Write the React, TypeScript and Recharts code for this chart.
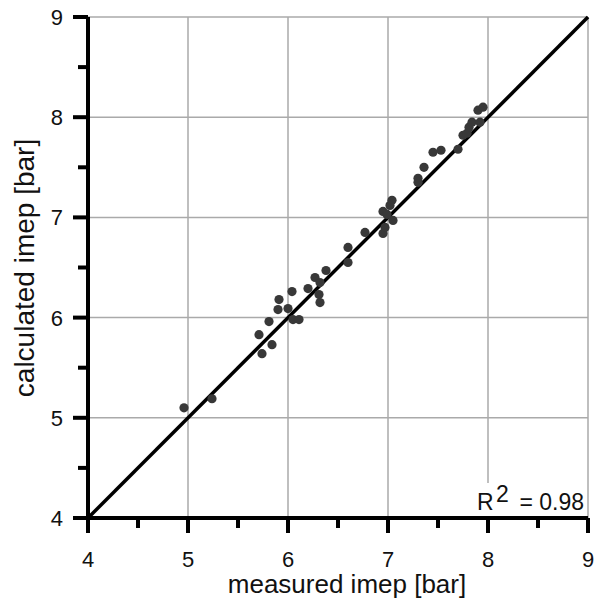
import { ScatterChart, Scatter, XAxis, YAxis, ReferenceLine, Label } from 'recharts';

// measured vs calculated imep [bar]
const measured = [
  4.96, 5.24, 5.71, 5.74, 5.84, 5.81, 5.9, 5.91, 6.0, 6.04, 6.05, 6.11, 6.2, 6.27,
  6.32, 6.31, 6.32, 6.38, 6.6, 6.6, 6.77, 6.95, 6.97, 6.95, 7.04, 7.02, 7.05, 6.99,
  7.3, 7.3, 7.36, 7.45, 7.53, 7.7, 7.75, 7.79, 7.81, 7.84, 7.9, 7.95, 7.92,
];
const calculated = [
  5.1, 5.19, 5.83, 5.64, 5.73, 5.96, 6.08, 6.18, 6.09, 6.26, 5.98, 5.98, 6.29, 6.4,
  6.35, 6.23, 6.15, 6.47, 6.55, 6.7, 6.85, 6.84, 6.9, 7.06, 7.17, 7.12, 6.97, 7.03,
  7.39, 7.35, 7.5, 7.65, 7.67, 7.68, 7.82, 7.84, 7.9, 7.95, 8.07, 8.1, 7.95,
];
const axisTicks = [4, 4.5, 5, 5.5, 6, 6.5, 7, 7.5, 8, 8.5, 9];
const gridValues = [5, 6, 7, 8, 9];

const points = measured.map((m, i) => ({ measured: m, calculated: calculated[i] }));

const FONT = '"Liberation Sans", Arial, sans-serif';

function XTick({ x, y, payload }: any) {
  const major = Number.isInteger(payload.value);
  return (
    <g>
      <line x1={x} x2={x} y1={y} y2={y + (major ? 15 : 10)} stroke="#000" strokeWidth={4} />
      {major && (
        <text x={x} y={y + 49} textAnchor="middle" fontSize={22} fontFamily={FONT} fill="#111">
          {payload.value}
        </text>
      )}
    </g>
  );
}

function YTick({ x, y, payload }: any) {
  const major = Number.isInteger(payload.value);
  return (
    <g>
      <line x1={x - (major ? 15 : 10)} x2={x} y1={y} y2={y} stroke="#000" strokeWidth={4} />
      {major && (
        <text x={x - 25} y={y + 8} textAnchor="end" fontSize={22} fontFamily={FONT} fill="#111">
          {payload.value}
        </text>
      )}
    </g>
  );
}

export default function App() {
  return (
    <div style={{ position: 'absolute', left: 0, top: 0, width: 598, height: 606, background: '#fff' }}>
      <ScatterChart width={598} height={606} margin={{ top: 17, right: 10, bottom: 0, left: 0 }}>
        {gridValues.map((v) => (
          <ReferenceLine key={'x' + v} x={v} stroke="#aaa" strokeWidth={1.5} />
        ))}
        {gridValues.map((v) => (
          <ReferenceLine key={'y' + v} y={v} stroke="#aaa" strokeWidth={1.5} />
        ))}
        <ReferenceLine
          segment={[{ x: 4, y: 4 }, { x: 9, y: 9 }]}
          stroke="#000"
          strokeWidth={3.5}
        />
        <XAxis
          type="number"
          dataKey="measured"
          domain={[4, 9]}
          ticks={axisTicks}
          interval={0}
          height={88}
          tickSize={0}
          tickMargin={0}
          tickLine={false}
          tick={<XTick />}
          axisLine={{ stroke: '#000', strokeWidth: 4 }}
        >
          <Label
            content={({ viewBox }: any) => (
              <text
                x={viewBox.x + viewBox.width / 2 + 9}
                y={viewBox.y + 75}
                textAnchor="middle"
                fontSize={26}
                fontFamily={FONT}
                fill="#111"
              >
                measured imep [bar]
              </text>
            )}
          />
        </XAxis>
        <YAxis
          type="number"
          dataKey="calculated"
          domain={[4, 9]}
          ticks={axisTicks}
          interval={0}
          width={88}
          tickSize={0}
          tickMargin={0}
          tickLine={false}
          tick={<YTick />}
          axisLine={{ stroke: '#000', strokeWidth: 4 }}
        >
          <Label
            content={() => (
              <text
                x={34}
                y={268}
                transform="rotate(-90, 34, 268)"
                textAnchor="middle"
                fontSize={28}
                fontFamily={FONT}
                fill="#111"
              >
                calculated imep [bar]
              </text>
            )}
          />
        </YAxis>
        <Scatter
          data={points}
          isAnimationActive={false}
          shape={(p: any) => <circle cx={p.cx} cy={p.cy} r={4.6} fill="#383838" />}
        />
      </ScatterChart>
      <svg width={598} height={606} style={{ position: 'absolute', left: 0, top: 0, pointerEvents: 'none' }}>
        <rect x={474} y={483} width={112} height={33} fill="#fff" />
        <text x={477} y={510} fontSize={23} fontFamily={FONT} fill="#111">R</text>
        <text x={496} y={502} fontSize={23} fontFamily={FONT} fill="#111">2</text>
        <text x={584} y={510} textAnchor="end" fontSize={23} fontFamily={FONT} fill="#111">= 0.98</text>
      </svg>
    </div>
  );
}
